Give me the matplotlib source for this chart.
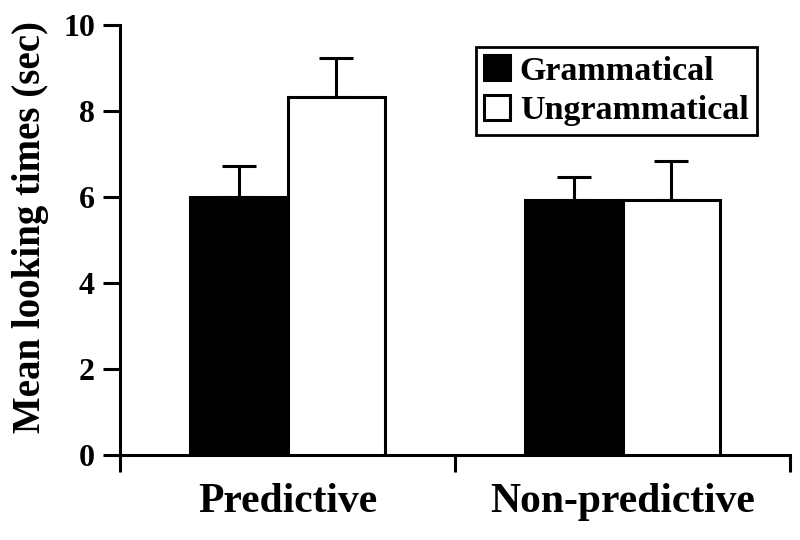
import numpy as np
import matplotlib
matplotlib.use('Agg')
from matplotlib import pyplot as plt

#%%

groups = ['Predictive', 'Non-predictive']
series = ['Grammatical', 'Ungrammatical']
grammatical = [6.01, 5.93]
ungrammatical = [8.32, 5.92]
grammatical_err = [0.71, 0.54]
ungrammatical_err = [0.92, 0.92]
y_ticks = [0, 2, 4, 6, 8, 10]

#%%

plt.rcParams['font.family'] = ['Liberation Serif', 'DejaVu Serif']
plt.rcParams['font.weight'] = 'bold'

fig = plt.figure(figsize=(8, 5.4), dpi=100)
ax = fig.add_axes([0.15, 0.157, 0.8375, 0.797])

centers = np.array([0.5, 1.5])
width = 0.292
lw = 2.2

ax.bar(centers - width / 2, grammatical, width, color='black', edgecolor='black',
       linewidth=lw, label=series[0], zorder=3)
ax.bar(centers + width / 2, ungrammatical, width, color='white', edgecolor='black',
       linewidth=lw, label=series[1], zorder=3)

zeros = [0, 0]
ax.errorbar(centers - width / 2, grammatical, yerr=[zeros, grammatical_err], fmt='none',
            ecolor='black', elinewidth=lw, capsize=12, capthick=lw, zorder=2)
ax.errorbar(centers + width / 2, ungrammatical, yerr=[zeros, ungrammatical_err], fmt='none',
            ecolor='black', elinewidth=lw, capsize=12, capthick=lw, zorder=2)

ax.set_xlim(0, 2)
ax.set_ylim(0, 10)
ax.set_yticks(y_ticks)
ax.set_yticklabels([str(t) for t in y_ticks], fontsize=23, fontweight='bold')
ax.set_xticks([0, 1, 2])
ax.set_xticklabels([])
ax.set_xticks(centers, minor=True)
ax.set_xticklabels(groups, minor=True, fontsize=30, fontweight='bold')
ax.tick_params(axis='x', which='minor', length=0, pad=20)
ax.tick_params(axis='x', which='major', length=12, width=lw, direction='out')
ax.tick_params(axis='y', length=12, width=lw, direction='out', pad=6)

for side in ['top', 'right']:
    ax.spines[side].set_visible(False)
for side in ['left', 'bottom']:
    ax.spines[side].set_linewidth(lw)

ax.set_ylabel('Mean looking times (sec)', fontsize=28, fontweight='bold')
ax.yaxis.set_label_coords(-0.106, 0.53)

leg = ax.legend(loc='upper right', bbox_to_anchor=(0.951, 0.949), fancybox=False,
                edgecolor='black', framealpha=1, prop={'size': 24.5, 'weight': 'bold'},
                handlelength=0.75, handleheight=0.75, handletextpad=0.3,
                borderpad=0.25, labelspacing=0.25, borderaxespad=0)
leg.get_frame().set_linewidth(2)

plt.savefig('out.png', dpi=100)
